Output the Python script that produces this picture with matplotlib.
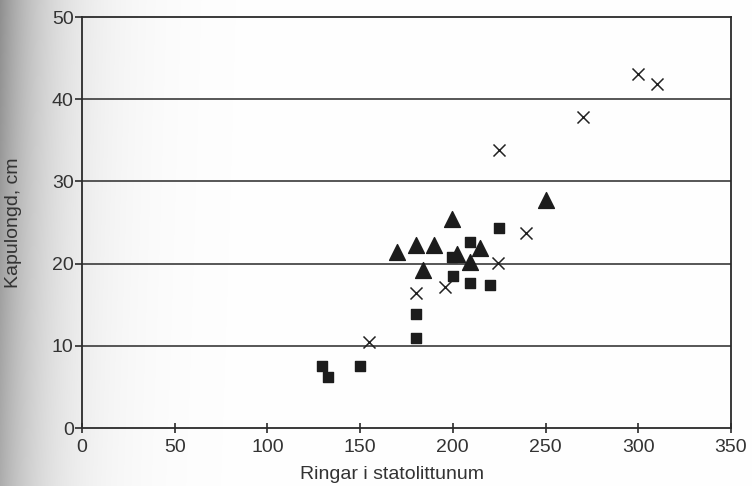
import numpy as np
import matplotlib
matplotlib.use("Agg")
import matplotlib.pyplot as plt

plt.rcParams['font.family'] = ['Liberation Sans', 'DejaVu Sans']

# Fyrkanter
ring_fyrk = [129.5, 132.5, 150, 180, 180, 199.5, 200, 209.5, 209.5, 220, 225]
langd_fyrk = [7.5, 6.2, 7.5, 13.9, 11.0, 20.8, 18.5, 22.7, 17.6, 17.4, 24.4]

# Trianglar
ring_tri = [170, 180, 184, 190, 199.5, 202, 209.5, 214.5, 250]
langd_tri = [21.4, 22.3, 19.2, 22.3, 25.4, 21.2, 20.2, 21.9, 27.7]

# Kryss
ring_kryss = [155, 180, 196, 224.5, 225, 239.5, 270, 300, 310]
langd_kryss = [10.5, 16.4, 17.2, 20.1, 33.8, 23.7, 37.8, 43.1, 41.8]

fig = plt.figure(figsize=(7.52, 4.86), dpi=100)

# grå skugga längs vänsterkanten, lite mörkare nertill
x = np.arange(752)
rad = np.linspace(1.15, 0.85, 486)[:, None]
bild = 1 - 0.38 * np.exp(-x[None, :] / 50.0) * rad
bild = np.clip(bild, 0, 1)
bild = np.dstack([bild, bild, bild])
fig.figimage(bild, 0, 0, zorder=-10)

ax = fig.add_axes([0.109, 0.119, 0.863, 0.846])
ax.set_facecolor('none')

ax.scatter(ring_fyrk, langd_fyrk, marker='s', s=55, color='#1c1c1c', zorder=3)
ax.scatter(ring_tri, langd_tri, marker='^', s=130, color='#1c1c1c', zorder=3)
ax.scatter(ring_kryss, langd_kryss, marker='x', s=75, color='#222222',
           linewidths=1.1, zorder=3)

ax.set_xlim(0, 350)
ax.set_ylim(0, 50)
ax.set_xticks([0, 50, 100, 150, 200, 250, 300, 350])
ax.set_yticks([0, 10, 20, 30, 40, 50])

for y in [10, 20, 30, 40]:
    ax.axhline(y, color='#3a3a3a', linewidth=1.2, zorder=1)

for s in ax.spines.values():
    s.set_color('#2a2a2a')
    s.set_linewidth(1.3)

ax.tick_params(axis='x', direction='inout', length=7, width=1.2,
               colors='#2a2a2a', labelsize=14, pad=4)
ax.tick_params(axis='y', direction='out', length=5, width=1.2,
               colors='#2a2a2a', labelsize=14, pad=1)
for lbl in ax.get_xticklabels() + ax.get_yticklabels():
    lbl.set_color('#333333')

ax.set_xlabel('Ringar i statolittunum', fontsize=14, color='#333333')
ax.set_ylabel('Kapulongd, cm', fontsize=14, color='#333333')
ax.xaxis.set_label_coords(0.478, -0.092)
ax.yaxis.set_label_coords(-0.092, 0.5)

fig.savefig('out.png', dpi=100)
